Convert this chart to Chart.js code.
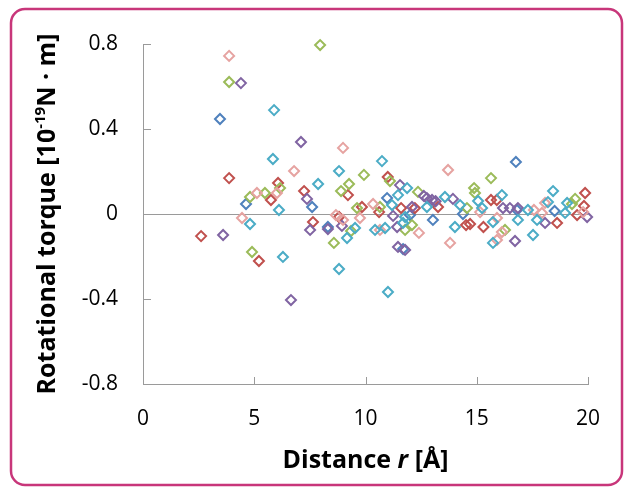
<!doctype html>
<html lang="en">
<head>
<meta charset="utf-8">
<title>Rotational torque vs distance</title>
<style>
  html,body{margin:0;padding:0;background:#fff}
  .wrap{position:relative;width:624px;height:488px}
</style>
</head>
<body>
<div class="wrap"><canvas id="chart"></canvas></div>
<script src="https://cdn.jsdelivr.net/npm/chart.js@4.4.1/dist/chart.umd.min.js"></script>
<script>
// values: distance r [Å], torque [1e-19 N·m]
const xTicks = [0, 5, 10, 15, 20];
const yTicks = [-0.8, -0.4, 0, 0.4, 0.8];

const redX = [2.61, 3.87, 5.21, 6.07, 5.75, 7.24, 7.64, 9.21, 8.81, 9.84, 10.61, 11.0, 11.6, 12.22, 13.26, 14.7, 14.52, 15.64, 15.9, 18.61, 19.87, 19.82, 19.51, 15.3];
const redY = [-0.104, 0.169, -0.221, 0.146, 0.066, 0.108, -0.038, 0.089, -0.014, 0.033, 0.009, 0.174, 0.028, 0.028, 0.033, -0.047, -0.052, 0.066, 0.066, -0.042, 0.099, 0.038, -0.005, -0.061];

const blueX = [3.46, 4.63, 7.6, 8.31, 10.97, 11.69, 13.03, 12.0, 16.76, 16.81, 18.5, 14.38];
const blueY = [0.447, 0.047, 0.033, -0.061, 0.075, -0.165, -0.028, -0.005, 0.245, 0.019, 0.014, 0.0];

const greenX = [3.87, 4.9, 4.81, 5.48, 6.16, 7.96, 8.9, 9.26, 9.93, 8.58, 9.35, 9.62, 10.65, 11.1, 12.36, 12.09, 11.78, 14.56, 14.88, 14.92, 15.64, 16.27, 19.42, 19.28];
const greenY = [0.621, -0.179, 0.08, 0.099, 0.122, 0.795, 0.108, 0.141, 0.184, -0.136, -0.08, 0.028, 0.033, 0.155, 0.104, -0.052, -0.075, 0.028, 0.122, 0.099, 0.169, -0.075, 0.071, 0.047];

const purpleX = [3.6, 4.4, 6.65, 7.1, 7.37, 7.51, 8.31, 8.94, 11.24, 11.46, 11.55, 11.78, 12.76, 12.99, 11.42, 12.09, 13.93, 16.18, 16.49, 16.85, 16.72, 18.07, 19.96, 12.62, 13.15];
const purpleY = [-0.099, 0.616, -0.405, 0.339, 0.071, -0.075, -0.071, -0.056, -0.009, -0.155, 0.136, -0.169, 0.075, 0.066, -0.061, 0.033, 0.071, 0.028, 0.028, 0.028, -0.127, -0.042, -0.014, 0.085, 0.06];

const cyanX = [4.81, 5.84, 5.89, 6.29, 6.11, 7.87, 8.81, 8.81, 9.17, 9.53, 10.43, 10.74, 10.88, 11.01, 11.19, 11.46, 11.69, 11.87, 11.78, 12.76, 13.57, 14.02, 14.25, 15.06, 15.24, 15.73, 15.73, 16.13, 16.85, 17.3, 17.53, 17.71, 18.43, 18.2, 18.97, 19.06];
const cyanY = [-0.047, 0.259, 0.489, -0.202, 0.019, 0.141, 0.202, -0.259, -0.113, -0.066, -0.075, 0.249, -0.066, -0.367, 0.042, 0.089, -0.042, 0.122, -0.014, 0.033, 0.08, -0.061, 0.042, 0.061, 0.028, -0.038, -0.136, 0.089, -0.028, 0.019, -0.099, -0.028, 0.108, 0.056, 0.005, 0.052];

const pinkX = [3.87, 4.45, 5.12, 6.02, 6.79, 8.99, 8.67, 8.99, 9.75, 10.34, 10.65, 12.4, 13.71, 13.8, 15.15, 15.91, 15.91, 16.13, 17.57, 17.93, 18.07, 19.78];
const pinkY = [0.744, -0.019, 0.099, 0.099, 0.202, 0.311, -0.005, -0.028, -0.019, 0.047, -0.075, -0.089, 0.207, -0.136, 0.009, -0.019, -0.122, -0.085, 0.019, 0.005, 0.052, 0.009];

const series = [
  { label: 'cyan',   xs: cyanX,   ys: cyanY,   color: '#4BACC6' },
  { label: 'pink',   xs: pinkX,   ys: pinkY,   color: '#E6A3A1' },
  { label: 'purple', xs: purpleX, ys: purpleY, color: '#8064A2' },
  { label: 'green',  xs: greenX,  ys: greenY,  color: '#9BBB59' },
  { label: 'red',    xs: redX,    ys: redY,    color: '#C0504D' },
  { label: 'blue',   xs: blueX,   ys: blueY,   color: '#4F81BD' }
];

const FONT = "'Open Sans', 'Noto Sans', sans-serif";
const axisGray = '#9a9a9a';

// frame, inward tick marks, axis titles
const decor = {
  id: 'decor',
  beforeDraw(chart){
    const c = chart.ctx;
    c.save(); c.fillStyle = '#fff'; c.fillRect(0, 0, chart.width, chart.height); c.restore();
  },
  afterDraw(chart){
    const c = chart.ctx, xs = chart.scales.x, ys = chart.scales.y, a = chart.chartArea;
    c.save();
    c.strokeStyle = axisGray; c.lineWidth = 1;
    c.beginPath();
    yTicks.forEach(v => { const y = Math.round(ys.getPixelForValue(v)) + 0.5; c.moveTo(a.left, y); c.lineTo(a.left + 8, y); });
    xTicks.forEach(v => { const x = Math.round(xs.getPixelForValue(v)) + 0.5; c.moveTo(x, a.bottom); c.lineTo(x, a.bottom - 7); });
    c.stroke();

    // x title
    c.fillStyle = '#000'; c.textBaseline = 'alphabetic';
    const parts = [['bold 25px ' + FONT, 'Distance '], ['italic bold 25px ' + FONT, 'r'], ['bold 25px ' + FONT, ' [Å]']];
    let w = 0; parts.forEach(p => { c.font = p[0]; w += c.measureText(p[1]).width; });
    let x = (a.left + a.right) / 2 - w / 2;
    parts.forEach(p => { c.font = p[0]; c.fillText(p[1], x, 468); x += c.measureText(p[1]).width; });

    // y title, rotated
    c.translate(55, (a.top + a.bottom) / 2);
    c.rotate(-Math.PI / 2);
    const yp = [['bold 25px ' + FONT, 'Rotational torque [10', 0], ['bold 15px ' + FONT, '-19', -10], ['bold 25px ' + FONT, 'N · m]', 0]];
    w = 0; yp.forEach(p => { c.font = p[0]; w += c.measureText(p[1]).width; });
    x = -w / 2;
    yp.forEach(p => { c.font = p[0]; c.fillText(p[1], x, p[2]); x += c.measureText(p[1]).width; });
    c.restore();

    // rounded frame
    c.save();
    c.strokeStyle = '#C8367A'; c.lineWidth = 2.5;
    c.beginPath(); c.roundRect(11, 9, 611, 476, 14); c.stroke();
    c.restore();
  }
};

const chart = new Chart(document.getElementById('chart'), {
  type: 'scatter',
  data: {
    datasets: series.map(s => ({
      label: s.label,
      data: s.xs.map((x, i) => ({ x, y: s.ys[i] })),
      pointStyle: 'rectRot', pointRadius: 5, pointHoverRadius: 5, clip: false,
      borderColor: s.color, backgroundColor: 'rgba(0,0,0,0)', borderWidth: 2
    }))
  },
  options: {
    responsive: true, maintainAspectRatio: false, animation: false,
    layout: { padding: { left: 0, right: 36, top: 44, bottom: 0 } },
    plugins: { legend: { display: false }, tooltip: { enabled: false } },
    scales: {
      x: {
        type: 'linear', min: 0, max: 20,
        afterFit(s){ s.height = 104; },
        afterBuildTicks(s){ s.ticks = xTicks.map(v => ({ value: v })); },
        grid: { display: false, drawTicks: false },
        border: { display: true, color: axisGray, width: 1 },
        ticks: { padding: 22, color: '#000', font: { family: FONT, size: 21 }, maxRotation: 0 }
      },
      y: {
        type: 'linear', min: -0.8, max: 0.8,
        afterFit(s){ s.width = 143; },
        afterBuildTicks(s){ s.ticks = yTicks.map(v => ({ value: v })); },
        grid: { drawTicks: false, color: c => c.tick && c.tick.value === 0 ? axisGray : 'rgba(0,0,0,0)' },
        border: { display: true, color: axisGray, width: 1 },
        ticks: { padding: 25, color: '#000', font: { family: FONT, size: 21 }, callback: v => String(v) }
      }
    }
  },
  plugins: [decor]
});
</script>
</body>
</html>
